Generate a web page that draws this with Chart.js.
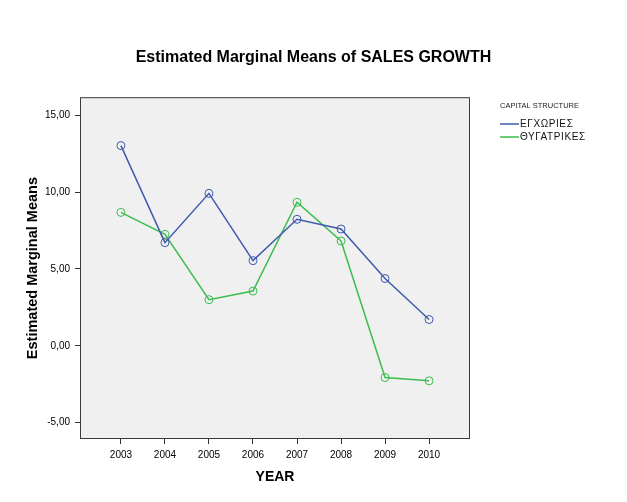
<!DOCTYPE html>
<html>
<head>
<meta charset="utf-8">
<script src="https://cdn.jsdelivr.net/npm/chart.js@4/dist/chart.umd.min.js"></script>
<style>
  html, body { margin: 0; padding: 0; background: #fff; }
  #wrap { width: 627px; height: 502px; }
</style>
</head>
<body>
<div id="wrap"><canvas id="chart" width="627" height="502"></canvas></div>
<script>
// data
const years = [2003, 2004, 2005, 2006, 2007, 2008, 2009, 2010];
const domestic = [13.03, 6.71, 9.92, 5.54, 8.23, 7.60, 4.38, 1.71];
const subsidiary = [8.68, 7.25, 3.00, 3.56, 9.34, 6.82, -2.07, -2.28];
const yTicks = [-5, 0, 5, 10, 15];
const seriesNames = ['ΕΓΧΩΡΙΕΣ', 'ΘΥΓΑΤΡΙΚΕΣ'];
const legendTitle = 'CAPITAL STRUCTURE';

const BLUE = '#3f5aae';
const GREEN = '#3cbd4e';
const FONT = "'Liberation Sans', Arial, sans-serif";

const plotFrame = {
  id: 'plotFrame',
  beforeDraw(chart) {
    const { ctx, chartArea: a } = chart;
    ctx.save();
    ctx.fillStyle = '#f0f0f0';
    ctx.fillRect(a.left, a.top, a.right - a.left, a.bottom - a.top);
    ctx.restore();
  },
  afterDraw(chart) {
    const { ctx, chartArea: a } = chart;
    ctx.save();
    ctx.strokeStyle = '#3a3a3a';
    ctx.lineWidth = 1;
    ctx.strokeRect(a.left + 0.5, a.top + 0.5, a.right - a.left - 1, a.bottom - a.top - 1);

    // legend on the right
    const x = a.right + 30;
    ctx.fillStyle = '#222';
    ctx.textBaseline = 'middle';
    ctx.font = '7.5px ' + FONT;
    ctx.fillText(legendTitle, x, 106);
    ctx.font = '10px ' + FONT;
    ctx.letterSpacing = '0.6px';
    const colors = [BLUE, GREEN];
    seriesNames.forEach((name, i) => {
      const y = 124 + i * 13;
      ctx.strokeStyle = colors[i];
      ctx.lineWidth = 1.5;
      ctx.beginPath();
      ctx.moveTo(x, y);
      ctx.lineTo(x + 19, y);
      ctx.stroke();
      ctx.fillStyle = '#111';
      ctx.fillText(name, x + 20, y);
    });
    ctx.restore();
  }
};

const dataset = (label, data, color) => ({
  label,
  data: years.map((yr, i) => ({ x: yr, y: data[i] })),
  borderColor: color,
  borderWidth: 1.5,
  pointRadius: 4,
  pointBorderWidth: 1,
  pointBackgroundColor: 'rgba(0,0,0,0)',
  pointBorderColor: color,
  tension: 0,
});

new Chart(document.getElementById('chart'), {
  type: 'line',
  data: {
    datasets: [
      dataset(seriesNames[0], domestic, BLUE),
      dataset(seriesNames[1], subsidiary, GREEN),
    ],
  },
  options: {
    responsive: false,
    animation: false,
    layout: { padding: 0 },
    plugins: {
      legend: { display: false },
      tooltip: { enabled: false },
      title: {
        display: true,
        text: 'Estimated Marginal Means of SALES GROWTH',
        color: '#000',
        font: { family: FONT, size: 16, weight: 'bold' },
        padding: { top: 48, bottom: 30 },
      },
    },
    scales: {
      x: {
        type: 'linear',
        min: years[0] - 0.93,
        max: years[years.length - 1] + 0.93,
        afterBuildTicks: (s) => { s.ticks = years.map(v => ({ value: v })); },
        afterFit: (s) => { s.height = 63; },
        grid: { drawOnChartArea: false, drawTicks: true, tickLength: 5, color: '#333' },
        border: { display: false },
        ticks: {
          color: '#000',
          padding: 5,
          maxRotation: 0,
          font: { family: FONT, size: 10 },
          callback: (v) => String(v),
        },
        title: {
          display: true,
          text: 'YEAR',
          color: '#000',
          font: { family: FONT, size: 14, weight: 'bold' },
          padding: { top: 0, bottom: 16 },
        },
      },
      y: {
        min: -6.07,
        max: 16.18,
        afterBuildTicks: (s) => { s.ticks = yTicks.map(v => ({ value: v })); },
        afterFit: (s) => { s.width = 80; },
        grid: { drawOnChartArea: false, drawTicks: true, tickLength: 5, color: '#333' },
        border: { display: false },
        ticks: {
          color: '#000',
          padding: 5,
          font: { family: FONT, size: 10 },
          callback: (v) => v.toFixed(2).replace('.', ','),
        },
        title: {
          display: true,
          text: 'Estimated Marginal Means',
          color: '#000',
          font: { family: FONT, size: 14.5, weight: 'bold' },
          padding: { top: 24, bottom: 0 },
        },
      },
      // empty right-hand strip that holds the legend
      legendSpace: {
        type: 'linear',
        position: 'right',
        display: true,
        afterFit: (s) => { s.width = 157; },
        grid: { display: false },
        border: { display: false },
        ticks: { display: false },
      },
    },
  },
  plugins: [plotFrame],
});
</script>
</body>
</html>
